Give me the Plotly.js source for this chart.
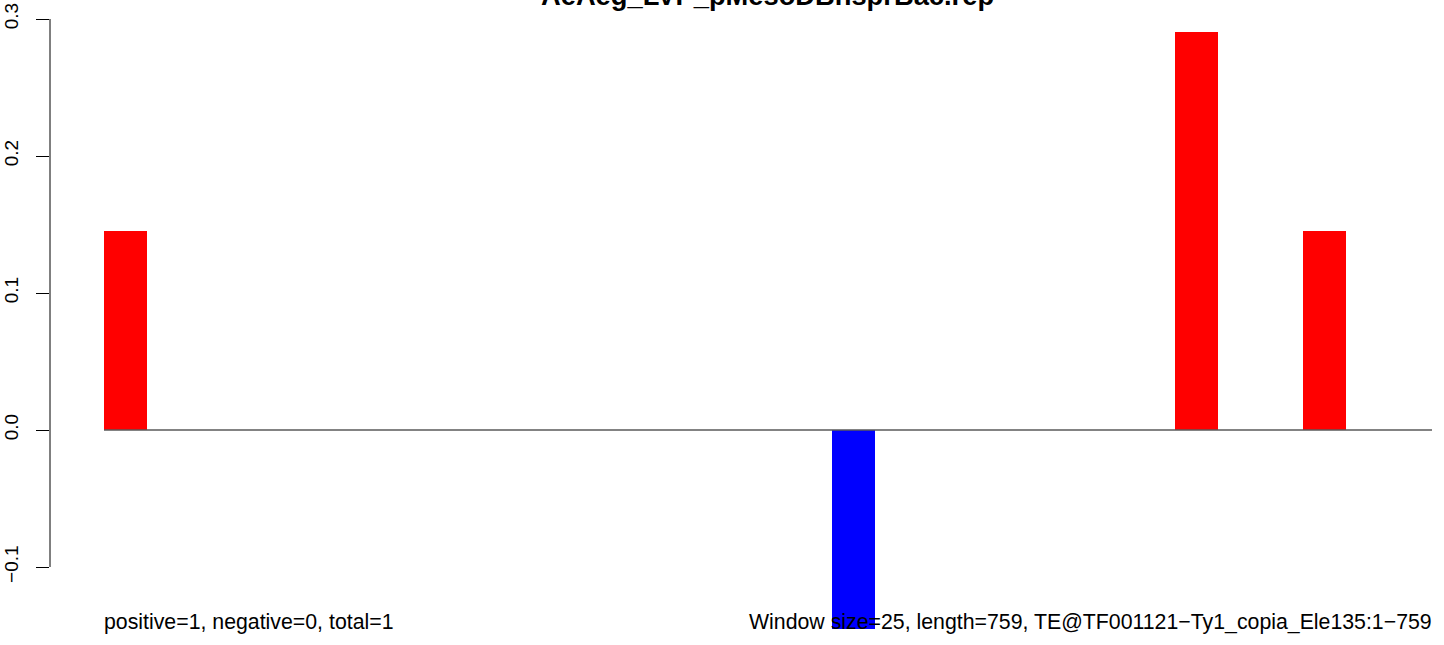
<!DOCTYPE html>
<html>
<head>
<meta charset="utf-8">
<script src="https://cdn.plot.ly/plotly-3.0.1.min.js"></script>
<style>html,body{margin:0;padding:0;background:#fff;}#chart{width:1444px;height:645px;}</style>
</head>
<body>
<div id="chart"></div>
<script>
// ---- data ----
const chartTitle = "AeAeg_LVP_pMesoDBhsprBac.rep";
const windows = Array.from({length: 31}, (_, i) => i + 1); // window index 1..31
const values = [
  0.1453, 0, 0, 0, 0, 0, 0, 0, 0, 0,
  0, 0, 0, 0, 0, 0, 0, -0.1453, 0, 0,
  0, 0, 0, 0, 0, 0.2906, 0, 0, 0.1453, 0,
  0
];
const yTicks = [-0.1, 0.0, 0.1, 0.2, 0.3];
const yTickLabels = ["\u22120.1", "0.0", "0.1", "0.2", "0.3"];
const leftNote = "positive=1, negative=0, total=1";
const rightNote = "Window size=25, length=759, TE@TF001121\u2212Ty1_copia_Ele135:1\u2212759";

// ---- drawing ----
const font = "Liberation Sans, Arial, Helvetica, sans-serif";
const xCenters = windows.map(w => w - 0.5);
const colors = values.map(v => v >= 0 ? "#FF0000" : "#0000FF");
const xLeft = xCenters[0] - 0.5;
const xRight = xCenters[xCenters.length - 1] + 0.5;

const traces = [
  {
    type: "scatter", mode: "lines",
    x: [xLeft, xRight], y: [0, 0],
    line: {color: "#5a5a5a", width: 1.3},
    hoverinfo: "skip", showlegend: false
  },
  {
    type: "bar",
    x: xCenters, y: values,
    width: 1,
    marker: {color: colors, line: {width: 0}},
    showlegend: false
  }
];

const layout = {
  width: 1444, height: 645,
  margin: {l: 50, r: 0, t: 0, b: 0, pad: 0},
  paper_bgcolor: "#ffffff", plot_bgcolor: "#ffffff",
  bargap: 0,
  showlegend: false,
  xaxis: {
    range: [-1.26, 31.28],
    showgrid: false, zeroline: false, showline: false,
    showticklabels: false, ticks: ""
  },
  yaxis: {
    range: [-(645 - 430) / 1370, 430 / 1370],
    showgrid: false, zeroline: false, showline: false,
    tickmode: "array", tickvals: yTicks, ticktext: yTickLabels,
    ticks: "outside", ticklen: 13, tickwidth: 1, tickcolor: "#000",
    tickangle: -90, ticklabelstandoff: 10,
    tickfont: {family: font, size: 19, color: "#000"}
  },
  shapes: [
    {type: "line", xref: "paper", yref: "y", x0: 0, x1: 0,
     y0: yTicks[0], y1: yTicks[yTicks.length - 1],
     line: {color: "#000", width: 1}}
  ],
  annotations: [
    {text: "<b>" + chartTitle + "</b>", xref: "x", yref: "paper",
     x: (-1.26 + (1485 - 104) / 42.84) / 2, y: 1, xanchor: "center", yanchor: "bottom",
     yshift: -13, showarrow: false,
     font: {family: font, size: 27.3, color: "#000"}},
    {text: leftNote, xref: "x", yref: "paper", x: xLeft, y: 0,
     xanchor: "left", yanchor: "middle", yshift: 23, xshift: -2, showarrow: false,
     font: {family: font, size: 21.3, color: "#000"}},
    {text: rightNote, xref: "x", yref: "paper", x: xRight, y: 0,
     xanchor: "right", yanchor: "middle", yshift: 23, xshift: 2, showarrow: false,
     font: {family: font, size: 21.3, color: "#000"}}
  ]
};

Plotly.newPlot("chart", traces, layout, {displayModeBar: false, staticPlot: true});
</script>
</body>
</html>
